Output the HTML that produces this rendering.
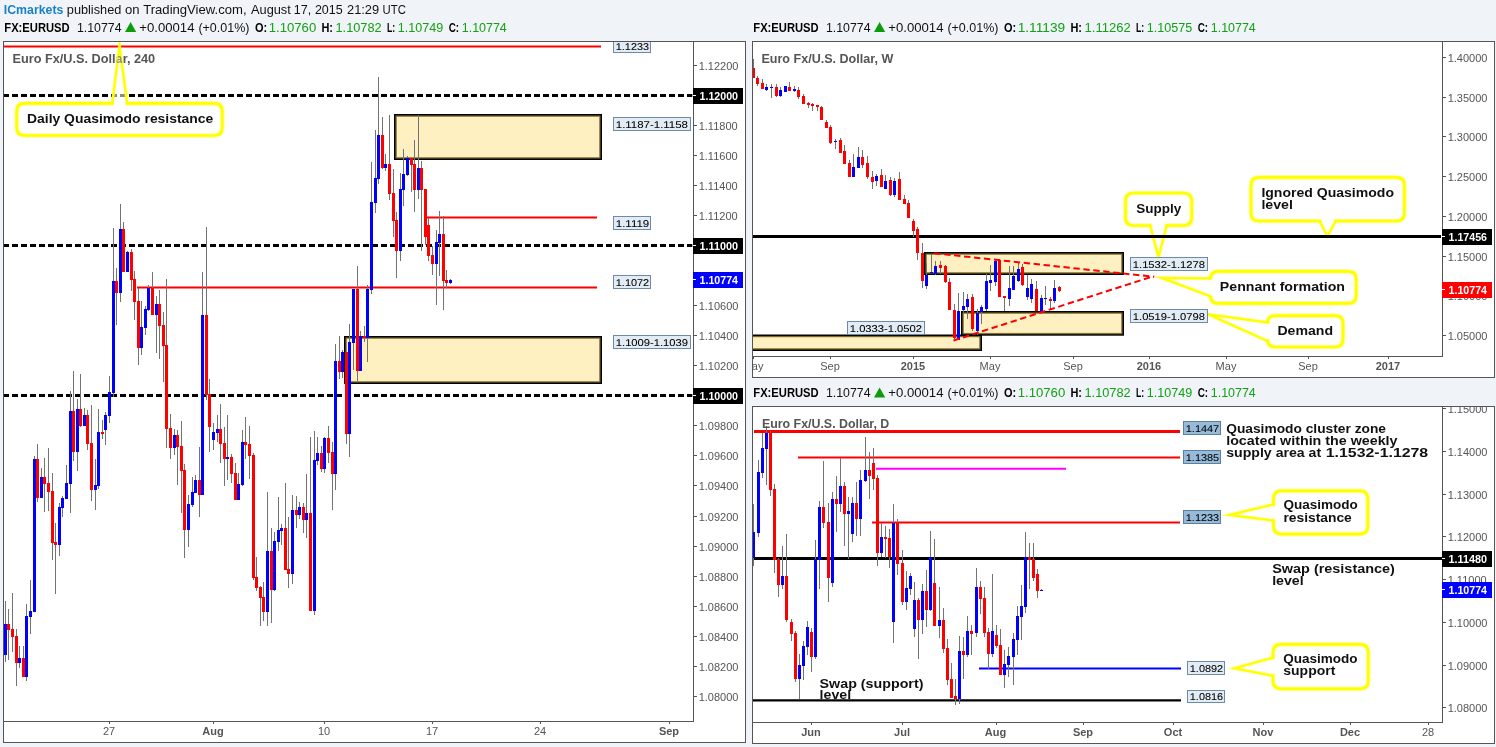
<!DOCTYPE html>
<html><head><meta charset="utf-8"><title>EURUSD</title>
<style>html,body{margin:0;padding:0;background:#f0f4f8;overflow:hidden}svg{display:block}text{font-family:"Liberation Sans",sans-serif}</style>
</head><body>
<svg width="1496" height="747" viewBox="0 0 1496 747" style="will-change:transform">
<text x="3.8" y="13.7" font-size="13.5" fill="#1a82c4" font-weight="bold" textLength="59.6" lengthAdjust="spacingAndGlyphs" >ICmarkets</text>
<text x="66.80000000000001" y="13.7" font-size="13.5" fill="#111" textLength="54.5" lengthAdjust="spacingAndGlyphs" >published</text>
<text x="125.0" y="13.7" font-size="13.5" fill="#111" textLength="14.6" lengthAdjust="spacingAndGlyphs" >on</text>
<text x="143.20000000000002" y="13.7" font-size="13.5" fill="#111" textLength="103.4" lengthAdjust="spacingAndGlyphs" >TradingView.com,</text>
<text x="251.0" y="13.7" font-size="13.5" fill="#111" textLength="39.8" lengthAdjust="spacingAndGlyphs" >August</text>
<text x="293.79999999999995" y="13.7" font-size="13.5" fill="#111" textLength="17.4" lengthAdjust="spacingAndGlyphs" >17,</text>
<text x="314.9" y="13.7" font-size="13.5" fill="#111" textLength="27.8" lengthAdjust="spacingAndGlyphs" >2015</text>
<text x="347.0" y="13.7" font-size="13.5" fill="#111" textLength="32.1" lengthAdjust="spacingAndGlyphs" >21:29</text>
<text x="382.59999999999997" y="13.7" font-size="13.5" fill="#111" textLength="23.3" lengthAdjust="spacingAndGlyphs" >UTC</text>
<text x="4.3" y="31.8" font-size="12.5" fill="#000" font-weight="bold" textLength="65.4" lengthAdjust="spacingAndGlyphs" >FX:EURUSD</text>
<text x="77" y="31.8" font-size="12.5" fill="#111" textLength="44.5" lengthAdjust="spacingAndGlyphs" >1.10774</text>
<path d="M125 32.1L136.2 32.1L130.6 22.0Z" fill="#0a9c0a"/>
<text x="139.3" y="31.8" font-size="12.5" fill="#111" textLength="55.2" lengthAdjust="spacingAndGlyphs" >+0.00014</text>
<text x="198.4" y="31.8" font-size="12.5" fill="#111" textLength="51" lengthAdjust="spacingAndGlyphs" >(+0.01%)</text>
<text x="255" y="31.8" font-size="12.5" fill="#000" font-weight="bold" textLength="12.2" lengthAdjust="spacingAndGlyphs" >O:</text>
<text x="268.7" y="31.8" font-size="12.5" fill="#14a014" textLength="47.5" lengthAdjust="spacingAndGlyphs" >1.10760</text>
<text x="321.4" y="31.8" font-size="12.5" fill="#000" font-weight="bold" textLength="11.6" lengthAdjust="spacingAndGlyphs" >H:</text>
<text x="335.5" y="31.8" font-size="12.5" fill="#14a014" textLength="46.2" lengthAdjust="spacingAndGlyphs" >1.10782</text>
<text x="386.9" y="31.8" font-size="12.5" fill="#000" font-weight="bold" textLength="8.2" lengthAdjust="spacingAndGlyphs" >L:</text>
<text x="397.8" y="31.8" font-size="12.5" fill="#14a014" textLength="45.4" lengthAdjust="spacingAndGlyphs" >1.10749</text>
<text x="448.7" y="31.8" font-size="12.5" fill="#000" font-weight="bold" textLength="10.4" lengthAdjust="spacingAndGlyphs" >C:</text>
<text x="461.8" y="31.8" font-size="12.5" fill="#14a014" textLength="45" lengthAdjust="spacingAndGlyphs" >1.10774</text>
<text x="753.3" y="31.8" font-size="12.5" fill="#000" font-weight="bold" textLength="65.4" lengthAdjust="spacingAndGlyphs" >FX:EURUSD</text>
<text x="826" y="31.8" font-size="12.5" fill="#111" textLength="44.5" lengthAdjust="spacingAndGlyphs" >1.10774</text>
<path d="M874 32.1L885.2 32.1L879.6 22.0Z" fill="#0a9c0a"/>
<text x="888.3" y="31.8" font-size="12.5" fill="#111" textLength="55.2" lengthAdjust="spacingAndGlyphs" >+0.00014</text>
<text x="947.4" y="31.8" font-size="12.5" fill="#111" textLength="51" lengthAdjust="spacingAndGlyphs" >(+0.01%)</text>
<text x="1004" y="31.8" font-size="12.5" fill="#000" font-weight="bold" textLength="12.2" lengthAdjust="spacingAndGlyphs" >O:</text>
<text x="1017.7" y="31.8" font-size="12.5" fill="#14a014" textLength="47.5" lengthAdjust="spacingAndGlyphs" >1.11139</text>
<text x="1070.4" y="31.8" font-size="12.5" fill="#000" font-weight="bold" textLength="11.6" lengthAdjust="spacingAndGlyphs" >H:</text>
<text x="1084.5" y="31.8" font-size="12.5" fill="#14a014" textLength="46.2" lengthAdjust="spacingAndGlyphs" >1.11262</text>
<text x="1135.9" y="31.8" font-size="12.5" fill="#000" font-weight="bold" textLength="8.2" lengthAdjust="spacingAndGlyphs" >L:</text>
<text x="1146.8" y="31.8" font-size="12.5" fill="#14a014" textLength="45.4" lengthAdjust="spacingAndGlyphs" >1.10575</text>
<text x="1197.7" y="31.8" font-size="12.5" fill="#000" font-weight="bold" textLength="10.4" lengthAdjust="spacingAndGlyphs" >C:</text>
<text x="1210.8" y="31.8" font-size="12.5" fill="#14a014" textLength="45" lengthAdjust="spacingAndGlyphs" >1.10774</text>
<text x="753.3" y="397.2" font-size="12.5" fill="#000" font-weight="bold" textLength="65.4" lengthAdjust="spacingAndGlyphs" >FX:EURUSD</text>
<text x="826" y="397.2" font-size="12.5" fill="#111" textLength="44.5" lengthAdjust="spacingAndGlyphs" >1.10774</text>
<path d="M874 397.5L885.2 397.5L879.6 387.4Z" fill="#0a9c0a"/>
<text x="888.3" y="397.2" font-size="12.5" fill="#111" textLength="55.2" lengthAdjust="spacingAndGlyphs" >+0.00014</text>
<text x="947.4" y="397.2" font-size="12.5" fill="#111" textLength="51" lengthAdjust="spacingAndGlyphs" >(+0.01%)</text>
<text x="1004" y="397.2" font-size="12.5" fill="#000" font-weight="bold" textLength="12.2" lengthAdjust="spacingAndGlyphs" >O:</text>
<text x="1017.7" y="397.2" font-size="12.5" fill="#14a014" textLength="47.5" lengthAdjust="spacingAndGlyphs" >1.10760</text>
<text x="1070.4" y="397.2" font-size="12.5" fill="#000" font-weight="bold" textLength="11.6" lengthAdjust="spacingAndGlyphs" >H:</text>
<text x="1084.5" y="397.2" font-size="12.5" fill="#14a014" textLength="46.2" lengthAdjust="spacingAndGlyphs" >1.10782</text>
<text x="1135.9" y="397.2" font-size="12.5" fill="#000" font-weight="bold" textLength="8.2" lengthAdjust="spacingAndGlyphs" >L:</text>
<text x="1146.8" y="397.2" font-size="12.5" fill="#14a014" textLength="45.4" lengthAdjust="spacingAndGlyphs" >1.10749</text>
<text x="1197.7" y="397.2" font-size="12.5" fill="#000" font-weight="bold" textLength="10.4" lengthAdjust="spacingAndGlyphs" >C:</text>
<text x="1210.8" y="397.2" font-size="12.5" fill="#14a014" textLength="45" lengthAdjust="spacingAndGlyphs" >1.10774</text>
<rect x="3.5" y="41.5" width="742" height="701" fill="#fff" stroke="#555555" stroke-width="1" />
<svg x="4" y="42" width="741" height="700" viewBox="4 42 741 700">
<text x="12.5" y="62.6" font-size="13" fill="#555555" font-weight="bold" textLength="142.7" lengthAdjust="spacingAndGlyphs" >Euro Fx/U.S. Dollar, 240</text>
<line x1="4" y1="46.5" x2="601" y2="46.5" stroke="#ff0000" stroke-width="2" />
<rect x="394" y="114" width="208" height="46" fill="#000" />
<rect x="395.45" y="115.45" width="205.1" height="43.1" fill="#7a6832" />
<rect x="396.6" y="116.6" width="202.8" height="40.8" fill="#d6c285" />
<rect x="397.0" y="117.0" width="202.0" height="40.0" fill="#fff0c2" />
<rect x="344" y="336" width="258" height="48" fill="#000" />
<rect x="345.45" y="337.45" width="255.1" height="45.1" fill="#7a6832" />
<rect x="346.6" y="338.6" width="252.8" height="42.8" fill="#d6c285" />
<rect x="347.0" y="339.0" width="252.0" height="42.0" fill="#fff0c2" />
<line x1="4" y1="95.5" x2="692.3" y2="95.5" stroke="#000" stroke-width="3" stroke-dasharray="6 3" stroke-dashoffset="1"/>
<line x1="4" y1="245.5" x2="692.3" y2="245.5" stroke="#000" stroke-width="3" stroke-dasharray="6 3" stroke-dashoffset="1"/>
<line x1="4" y1="395.5" x2="692.3" y2="395.5" stroke="#000" stroke-width="3" stroke-dasharray="6 3" stroke-dashoffset="1"/>
<line x1="427" y1="217.5" x2="597" y2="217.5" stroke="#ff0000" stroke-width="2" />
<line x1="137" y1="287.5" x2="597" y2="287.5" stroke="#ff0000" stroke-width="2" />
<g shape-rendering="crispEdges">
<path d="M5.5 601V662M8.5 609V660M12.5 593V652M16.5 629V686M19.5 646V668M23.5 646V677M26.5 604V681M30.5 580V634M34.5 456V612M37.5 444V502M41.5 468V498M44.5 458V512M48.5 448V511M52.5 473V560M55.5 523V594M59.5 503V556M62.5 496V517M66.5 465V499M70.5 391V513M73.5 371V461M77.5 399V471M80.5 374V427M84.5 408V426M87.5 410V450M91.5 405V501M95.5 459V510M98.5 409V489M102.5 420V439M105.5 412V445M109.5 376V423M113.5 228V397M116.5 268V325M120.5 204V302M123.5 222V272M127.5 251V272M131.5 249V291M134.5 271V320M138.5 288V365M141.5 301V355M145.5 306V335M148.5 285V311M152.5 272V315M156.5 296V353M159.5 290V359M163.5 312V382M166.5 279V448M170.5 414V459M174.5 429V455M177.5 430V485M181.5 421V513M184.5 464V558M188.5 495V547M192.5 477V507M195.5 475V493M199.5 447V517M202.5 272V495M206.5 227V400M209.5 379V452M213.5 423V450M217.5 415V442M220.5 404V463M224.5 427V486M227.5 415V480M231.5 454V483M235.5 463V500M238.5 473V500M242.5 430V486M245.5 417V459M249.5 426V479M253.5 453V580M256.5 557V591M260.5 586V626M263.5 582V621M267.5 492V626M271.5 528V623M274.5 532V591M278.5 497V551M281.5 524V545M285.5 483V570M288.5 517V588M292.5 495V584M296.5 496V528M299.5 502V519M303.5 503V533M306.5 474V538M310.5 437V611M314.5 431V615M317.5 437V465M321.5 446V472M324.5 437V473M328.5 426V463M332.5 442V510M335.5 344V490M339.5 336V379M342.5 350V378M346.5 352V444M349.5 324V457M353.5 289V370M357.5 266V381M360.5 331V371M364.5 326V342M367.5 285V362M371.5 162V294M375.5 130V213M378.5 77V184M382.5 117V169M385.5 154V171M389.5 115V200M393.5 169V237M396.5 212V278M400.5 173V261M403.5 149V206M407.5 156V176M411.5 158V192M414.5 140V212M418.5 115V199M421.5 161V251M425.5 189V245M428.5 218V261M432.5 246V275M436.5 230V305M439.5 211V276M443.5 216V310M446.5 270V288M450.5 279V284" stroke="#737375" stroke-width="1" fill="none"/>
<path d="M7 624h3v6h-3zM11 629h3v8h-3zM15 636h3v27h-3zM22 658h3v19h-3zM36 459h3v39h-3zM43 477h3v7h-3zM47 483h3v9h-3zM51 491h3v52h-3zM54 542h3v3h-3zM72 411h3v41h-3zM79 409h3v17h-3zM86 415h3v29h-3zM90 443h3v47h-3zM101 432h3v2h-3zM115 281h3v12h-3zM122 229h3v43h-3zM130 252h3v28h-3zM133 279h3v23h-3zM137 301h3v47h-3zM151 288h3v27h-3zM158 304h3v22h-3zM162 325h3v21h-3zM165 345h3v84h-3zM169 428h3v20h-3zM176 435h3v12h-3zM180 446h3v25h-3zM183 470h3v60h-3zM198 480h3v15h-3zM205 315h3v80h-3zM208 394h3v33h-3zM219 429h3v15h-3zM223 443h3v16h-3zM230 457h3v17h-3zM234 473h3v27h-3zM244 442h3v3h-3zM248 444h3v12h-3zM252 455h3v123h-3zM255 577h3v11h-3zM259 587h3v11h-3zM262 597h3v15h-3zM270 551h3v39h-3zM284 528h3v42h-3zM287 569h3v5h-3zM295 510h3v5h-3zM302 507h3v13h-3zM309 513h3v98h-3zM320 453h3v16h-3zM327 438h3v15h-3zM331 452h3v22h-3zM338 361h3v11h-3zM345 352h3v82h-3zM356 289h3v82h-3zM363 336h3v2h-3zM381 135h3v33h-3zM388 164h3v30h-3zM392 193h3v28h-3zM395 220h3v31h-3zM410 158h3v7h-3zM413 164h3v26h-3zM420 168h3v22h-3zM424 189h3v48h-3zM427 225h3v31h-3zM431 255h3v9h-3zM442 234h3v47h-3zM445 280h3v3h-3z" fill="#ff0000"/>
<path d="M4 624h3v31h-3zM18 658h3v5h-3zM25 616h3v61h-3zM29 611h3v6h-3zM33 459h3v153h-3zM40 477h3v21h-3zM58 507h3v38h-3zM61 498h3v10h-3zM65 483h3v16h-3zM69 411h3v73h-3zM76 409h3v43h-3zM83 415h3v11h-3zM94 485h3v5h-3zM97 432h3v54h-3zM104 415h3v15h-3zM108 392h3v24h-3zM112 281h3v112h-3zM119 229h3v64h-3zM126 252h3v20h-3zM140 327h3v21h-3zM144 309h3v19h-3zM147 288h3v22h-3zM155 304h3v11h-3zM173 435h3v13h-3zM187 504h3v26h-3zM191 492h3v13h-3zM194 480h3v13h-3zM201 315h3v180h-3zM212 432h3v8h-3zM216 429h3v4h-3zM226 457h3v2h-3zM237 484h3v16h-3zM241 442h3v43h-3zM266 551h3v61h-3zM273 541h3v49h-3zM277 530h3v12h-3zM280 528h3v3h-3zM291 510h3v64h-3zM298 507h3v8h-3zM305 513h3v7h-3zM313 460h3v151h-3zM316 453h3v8h-3zM323 438h3v31h-3zM334 361h3v113h-3zM341 352h3v20h-3zM348 342h3v92h-3zM352 289h3v54h-3zM359 336h3v35h-3zM366 289h3v49h-3zM370 202h3v88h-3zM374 178h3v25h-3zM377 135h3v44h-3zM384 164h3v4h-3zM399 189h3v62h-3zM402 174h3v16h-3zM406 158h3v17h-3zM417 168h3v22h-3zM435 242h3v22h-3zM438 234h3v9h-3zM449 280h3v3h-3z" fill="#0000ff"/>
</g>
<path d="M24.7 103.4L112.2 103.4L119.5 46L127.2 103.4L214.3 103.4Q222.3 103.4 222.3 111.4L222.3 127.5Q222.3 135.5 214.3 135.5L24.7 135.5Q16.7 135.5 16.7 127.5L16.7 111.4Q16.7 103.4 24.7 103.4Z" fill="#fff" fill-opacity="0.55" stroke="none"/>
<path d="M127.2 103.4L214.3 103.4Q222.3 103.4 222.3 111.4L222.3 127.5Q222.3 135.5 214.3 135.5L24.7 135.5Q16.7 135.5 16.7 127.5L16.7 111.4Q16.7 103.4 24.7 103.4L112.2 103.4" fill="none" stroke="#ffff44" stroke-opacity="0.55" stroke-width="4.6" stroke-linecap="round"/>
<path d="M112.2 103.4L119.5 46L127.2 103.4" fill="none" stroke="#ffff44" stroke-opacity="0.55" stroke-width="3.3" stroke-linejoin="miter" stroke-miterlimit="20" stroke-linecap="round"/>
<path d="M127.2 103.4L214.3 103.4Q222.3 103.4 222.3 111.4L222.3 127.5Q222.3 135.5 214.3 135.5L24.7 135.5Q16.7 135.5 16.7 127.5L16.7 111.4Q16.7 103.4 24.7 103.4L112.2 103.4" fill="none" stroke="#ffff00" stroke-width="2.7" stroke-linecap="round"/>
<path d="M112.2 103.4L119.5 46L127.2 103.4" fill="none" stroke="#ffff00" stroke-width="2.2" stroke-linejoin="miter" stroke-miterlimit="20" stroke-linecap="round"/>
<text x="27" y="122.6" font-size="12" fill="#111" font-weight="bold" textLength="186.3" lengthAdjust="spacingAndGlyphs" >Daily Quasimodo resistance</text>
<clipPath id="cp1"><path d="M112 101L119.5 44L127.5 101Z"/></clipPath>
<text x="12.5" y="62.6" font-size="13" fill="#8f8f8f" font-weight="bold" textLength="142.7" lengthAdjust="spacingAndGlyphs" clip-path="url(#cp1)">Euro Fx/U.S. Dollar, 240</text>
<rect x="613.5" y="38.5" width="37" height="13.5" fill="#e2ecf4" stroke="#6f8aa6" stroke-width="1" shape-rendering="crispEdges"/>
<text x="615.8" y="50.199999999999996" font-size="9.9" fill="#000" textLength="33.2" lengthAdjust="spacingAndGlyphs" text-rendering="geometricPrecision" stroke="#000" stroke-width="0.06">1.1233</text>
<rect x="613.5" y="117.5" width="77" height="13" fill="#e2ecf4" stroke="#6f8aa6" stroke-width="1" shape-rendering="crispEdges"/>
<text x="615.8" y="127.9" font-size="9.9" fill="#000" textLength="72.2" lengthAdjust="spacingAndGlyphs" text-rendering="geometricPrecision" stroke="#000" stroke-width="0.06">1.1187-1.1158</text>
<rect x="613.5" y="216.5" width="37" height="13" fill="#e2ecf4" stroke="#6f8aa6" stroke-width="1" shape-rendering="crispEdges"/>
<text x="615.8" y="226.9" font-size="9.9" fill="#000" textLength="33.4" lengthAdjust="spacingAndGlyphs" text-rendering="geometricPrecision" stroke="#000" stroke-width="0.06">1.1119</text>
<rect x="613.5" y="275.5" width="37" height="13" fill="#e2ecf4" stroke="#6f8aa6" stroke-width="1" shape-rendering="crispEdges"/>
<text x="615.8" y="285.9" font-size="9.9" fill="#000" textLength="33.4" lengthAdjust="spacingAndGlyphs" text-rendering="geometricPrecision" stroke="#000" stroke-width="0.06">1.1072</text>
<rect x="613.5" y="335.5" width="77" height="13" fill="#e2ecf4" stroke="#6f8aa6" stroke-width="1" shape-rendering="crispEdges"/>
<text x="615.8" y="345.9" font-size="9.9" fill="#000" textLength="72.2" lengthAdjust="spacingAndGlyphs" text-rendering="geometricPrecision" stroke="#000" stroke-width="0.06">1.1009-1.1039</text>
</svg>
<rect x="693" y="42" width="1" height="680" fill="#555555" shape-rendering="crispEdges"/>
<rect x="4" y="721" width="690" height="1" fill="#555555" shape-rendering="crispEdges"/>
<rect x="694" y="65" width="3" height="1" fill="#555555" shape-rendering="crispEdges"/>
<text x="698.7" y="70" font-size="11" fill="#555555" >1.12200</text>
<rect x="694" y="95" width="3" height="1" fill="#555555" shape-rendering="crispEdges"/>
<text x="698.7" y="100" font-size="11" fill="#555555" >1.12000</text>
<rect x="694" y="125" width="3" height="1" fill="#555555" shape-rendering="crispEdges"/>
<text x="698.7" y="130" font-size="11" fill="#555555" >1.11800</text>
<rect x="694" y="155" width="3" height="1" fill="#555555" shape-rendering="crispEdges"/>
<text x="698.7" y="160" font-size="11" fill="#555555" >1.11600</text>
<rect x="694" y="185" width="3" height="1" fill="#555555" shape-rendering="crispEdges"/>
<text x="698.7" y="190" font-size="11" fill="#555555" >1.11400</text>
<rect x="694" y="215" width="3" height="1" fill="#555555" shape-rendering="crispEdges"/>
<text x="698.7" y="220" font-size="11" fill="#555555" >1.11200</text>
<rect x="694" y="245" width="3" height="1" fill="#555555" shape-rendering="crispEdges"/>
<text x="698.7" y="250" font-size="11" fill="#555555" >1.11000</text>
<rect x="694" y="275" width="3" height="1" fill="#555555" shape-rendering="crispEdges"/>
<text x="698.7" y="280" font-size="11" fill="#555555" >1.10800</text>
<rect x="694" y="305" width="3" height="1" fill="#555555" shape-rendering="crispEdges"/>
<text x="698.7" y="310" font-size="11" fill="#555555" >1.10600</text>
<rect x="694" y="335" width="3" height="1" fill="#555555" shape-rendering="crispEdges"/>
<text x="698.7" y="340" font-size="11" fill="#555555" >1.10400</text>
<rect x="694" y="365" width="3" height="1" fill="#555555" shape-rendering="crispEdges"/>
<text x="698.7" y="370" font-size="11" fill="#555555" >1.10200</text>
<rect x="694" y="395" width="3" height="1" fill="#555555" shape-rendering="crispEdges"/>
<text x="698.7" y="400" font-size="11" fill="#555555" >1.10000</text>
<rect x="694" y="425" width="3" height="1" fill="#555555" shape-rendering="crispEdges"/>
<text x="698.7" y="430" font-size="11" fill="#555555" >1.09800</text>
<rect x="694" y="455" width="3" height="1" fill="#555555" shape-rendering="crispEdges"/>
<text x="698.7" y="460" font-size="11" fill="#555555" >1.09600</text>
<rect x="694" y="485" width="3" height="1" fill="#555555" shape-rendering="crispEdges"/>
<text x="698.7" y="490" font-size="11" fill="#555555" >1.09400</text>
<rect x="694" y="516" width="3" height="1" fill="#555555" shape-rendering="crispEdges"/>
<text x="698.7" y="521" font-size="11" fill="#555555" >1.09200</text>
<rect x="694" y="546" width="3" height="1" fill="#555555" shape-rendering="crispEdges"/>
<text x="698.7" y="551" font-size="11" fill="#555555" >1.09000</text>
<rect x="694" y="576" width="3" height="1" fill="#555555" shape-rendering="crispEdges"/>
<text x="698.7" y="581" font-size="11" fill="#555555" >1.08800</text>
<rect x="694" y="606" width="3" height="1" fill="#555555" shape-rendering="crispEdges"/>
<text x="698.7" y="611" font-size="11" fill="#555555" >1.08600</text>
<rect x="694" y="636" width="3" height="1" fill="#555555" shape-rendering="crispEdges"/>
<text x="698.7" y="641" font-size="11" fill="#555555" >1.08400</text>
<rect x="694" y="666" width="3" height="1" fill="#555555" shape-rendering="crispEdges"/>
<text x="698.7" y="671" font-size="11" fill="#555555" >1.08200</text>
<rect x="694" y="696" width="3" height="1" fill="#555555" shape-rendering="crispEdges"/>
<text x="698.7" y="701" font-size="11" fill="#555555" >1.08000</text>
<rect x="693" y="88" width="50" height="16" fill="#000" shape-rendering="crispEdges"/>
<rect x="693" y="95" width="3" height="1" fill="#fff" shape-rendering="crispEdges"/>
<text x="699.5" y="100" font-size="11" fill="#fff" font-weight="bold" textLength="38.5" lengthAdjust="spacingAndGlyphs" >1.12000</text>
<rect x="693" y="238" width="50" height="16" fill="#000" shape-rendering="crispEdges"/>
<rect x="693" y="245" width="3" height="1" fill="#fff" shape-rendering="crispEdges"/>
<text x="699.5" y="250" font-size="11" fill="#fff" font-weight="bold" textLength="38.5" lengthAdjust="spacingAndGlyphs" >1.11000</text>
<rect x="693" y="388" width="50" height="16" fill="#000" shape-rendering="crispEdges"/>
<rect x="693" y="395" width="3" height="1" fill="#fff" shape-rendering="crispEdges"/>
<text x="699.5" y="400" font-size="11" fill="#fff" font-weight="bold" textLength="38.5" lengthAdjust="spacingAndGlyphs" >1.10000</text>
<rect x="693" y="272" width="50" height="16" fill="#0000ff" shape-rendering="crispEdges"/>
<rect x="693" y="279" width="3" height="1" fill="#fff" shape-rendering="crispEdges"/>
<text x="699.5" y="284" font-size="11" fill="#fff" font-weight="bold" textLength="38.5" lengthAdjust="spacingAndGlyphs" >1.10774</text>
<rect x="109" y="722" width="1" height="2" fill="#555555" shape-rendering="crispEdges"/>
<text x="109.0" y="735" font-size="11" fill="#555555" text-anchor="middle" >27</text>
<rect x="213" y="722" width="1" height="2" fill="#555555" shape-rendering="crispEdges"/>
<text x="213.0" y="735" font-size="11" fill="#555555" font-weight="bold" text-anchor="middle" >Aug</text>
<rect x="324" y="722" width="1" height="2" fill="#555555" shape-rendering="crispEdges"/>
<text x="324.0" y="735" font-size="11" fill="#555555" text-anchor="middle" >10</text>
<rect x="432" y="722" width="1" height="2" fill="#555555" shape-rendering="crispEdges"/>
<text x="432.0" y="735" font-size="11" fill="#555555" text-anchor="middle" >17</text>
<rect x="540" y="722" width="1" height="2" fill="#555555" shape-rendering="crispEdges"/>
<text x="540.0" y="735" font-size="11" fill="#555555" text-anchor="middle" >24</text>
<rect x="669" y="722" width="1" height="2" fill="#555555" shape-rendering="crispEdges"/>
<text x="669.0" y="735" font-size="11" fill="#555555" font-weight="bold" text-anchor="middle" >Sep</text>
<rect x="752.5" y="41.5" width="742" height="336" fill="#fff" stroke="#555555" stroke-width="1" />
<svg x="753" y="42" width="741" height="335" viewBox="753 42 741 335">
<text x="761.4" y="62.6" font-size="13" fill="#555555" font-weight="bold" textLength="131.9" lengthAdjust="spacingAndGlyphs" >Euro Fx/U.S. Dollar, W</text>
<rect x="750" y="334.5" width="232" height="16.5" fill="#000" />
<rect x="751.45" y="335.95" width="229.1" height="13.6" fill="#7a6832" />
<rect x="752.6" y="337.1" width="226.8" height="11.3" fill="#d6c285" />
<rect x="753.0" y="337.5" width="226.0" height="10.5" fill="#fff0c2" />
<rect x="961" y="311" width="163" height="24.69999999999999" fill="#000" />
<rect x="962.45" y="312.45" width="160.1" height="21.79999999999999" fill="#7a6832" />
<rect x="963.6" y="313.6" width="157.8" height="19.49999999999999" fill="#d6c285" />
<rect x="964.0" y="314.0" width="157.0" height="18.69999999999999" fill="#fff0c2" />
<rect x="924" y="252" width="200" height="23" fill="#000" />
<rect x="925.45" y="253.45" width="197.1" height="20.1" fill="#7a6832" />
<rect x="926.6" y="254.6" width="194.8" height="17.8" fill="#d6c285" />
<rect x="927.0" y="255.0" width="194.0" height="17.0" fill="#fff0c2" />
<path d="M1133.5 193L1183.7 193Q1191.7 193 1191.7 201L1191.7 217.5Q1191.7 225.5 1183.7 225.5L1166.6 225.5L1158.5 257.5L1150.2 225.5L1133.5 225.5Q1125.5 225.5 1125.5 217.5L1125.5 201Q1125.5 193 1133.5 193Z" fill="#fff" fill-opacity="0.8" stroke="none"/>
<path d="M1150.2 225.5L1133.5 225.5Q1125.5 225.5 1125.5 217.5L1125.5 201Q1125.5 193 1133.5 193L1183.7 193Q1191.7 193 1191.7 201L1191.7 217.5Q1191.7 225.5 1183.7 225.5L1166.6 225.5" fill="none" stroke="#ffff44" stroke-opacity="0.55" stroke-width="4.6" stroke-linecap="round"/>
<path d="M1166.6 225.5L1158.5 257.5L1150.2 225.5" fill="none" stroke="#ffff44" stroke-opacity="0.55" stroke-width="3.3" stroke-linejoin="miter" stroke-miterlimit="20" stroke-linecap="round"/>
<path d="M1150.2 225.5L1133.5 225.5Q1125.5 225.5 1125.5 217.5L1125.5 201Q1125.5 193 1133.5 193L1183.7 193Q1191.7 193 1191.7 201L1191.7 217.5Q1191.7 225.5 1183.7 225.5L1166.6 225.5" fill="none" stroke="#ffff00" stroke-width="2.7" stroke-linecap="round"/>
<path d="M1166.6 225.5L1158.5 257.5L1150.2 225.5" fill="none" stroke="#ffff00" stroke-width="2.2" stroke-linejoin="miter" stroke-miterlimit="20" stroke-linecap="round"/>
<text x="1136.2" y="212.8" font-size="12" fill="#111" font-weight="bold" textLength="45" lengthAdjust="spacingAndGlyphs" >Supply</text>
<path d="M1259 177.4L1396.4 177.4Q1404.4 177.4 1404.4 185.4L1404.4 213Q1404.4 221 1396.4 221L1335.7 221L1327.4 236.3L1319.7 221L1259 221Q1251 221 1251 213L1251 185.4Q1251 177.4 1259 177.4Z" fill="#fff" fill-opacity="0.8" stroke="none"/>
<path d="M1319.7 221L1259 221Q1251 221 1251 213L1251 185.4Q1251 177.4 1259 177.4L1396.4 177.4Q1404.4 177.4 1404.4 185.4L1404.4 213Q1404.4 221 1396.4 221L1335.7 221" fill="none" stroke="#ffff44" stroke-opacity="0.55" stroke-width="4.6" stroke-linecap="round"/>
<path d="M1335.7 221L1327.4 236.3L1319.7 221" fill="none" stroke="#ffff44" stroke-opacity="0.55" stroke-width="3.3" stroke-linejoin="miter" stroke-miterlimit="20" stroke-linecap="round"/>
<path d="M1319.7 221L1259 221Q1251 221 1251 213L1251 185.4Q1251 177.4 1259 177.4L1396.4 177.4Q1404.4 177.4 1404.4 185.4L1404.4 213Q1404.4 221 1396.4 221L1335.7 221" fill="none" stroke="#ffff00" stroke-width="2.7" stroke-linecap="round"/>
<path d="M1335.7 221L1327.4 236.3L1319.7 221" fill="none" stroke="#ffff00" stroke-width="2.2" stroke-linejoin="miter" stroke-miterlimit="20" stroke-linecap="round"/>
<text x="1261.4" y="196.8" font-size="12" fill="#111" font-weight="bold" textLength="132.6" lengthAdjust="spacingAndGlyphs" >Ignored Quasimodo</text>
<text x="1261.4" y="208.9" font-size="12" fill="#111" font-weight="bold" textLength="31.5" lengthAdjust="spacingAndGlyphs" >level</text>
<path d="M1218.4 271.4L1348.2 271.4Q1356.2 271.4 1356.2 279.4L1356.2 295.4Q1356.2 303.4 1348.2 303.4L1218.4 303.4Q1210.4 303.4 1210.4 295.4L1210.4 296.2L1161.5 277.9L1210.4 278.3L1210.4 279.4Q1210.4 271.4 1218.4 271.4Z" fill="#fff" fill-opacity="0.8" stroke="none"/>
<path d="M1210.4 278.3L1210.4 279.4Q1210.4 271.4 1218.4 271.4L1348.2 271.4Q1356.2 271.4 1356.2 279.4L1356.2 295.4Q1356.2 303.4 1348.2 303.4L1218.4 303.4Q1210.4 303.4 1210.4 295.4L1210.4 296.2" fill="none" stroke="#ffff44" stroke-opacity="0.55" stroke-width="4.6" stroke-linecap="round"/>
<path d="M1210.4 296.2L1161.5 277.9L1210.4 278.3" fill="none" stroke="#ffff44" stroke-opacity="0.55" stroke-width="3.3" stroke-linejoin="miter" stroke-miterlimit="20" stroke-linecap="round"/>
<path d="M1210.4 278.3L1210.4 279.4Q1210.4 271.4 1218.4 271.4L1348.2 271.4Q1356.2 271.4 1356.2 279.4L1356.2 295.4Q1356.2 303.4 1348.2 303.4L1218.4 303.4Q1210.4 303.4 1210.4 295.4L1210.4 296.2" fill="none" stroke="#ffff00" stroke-width="2.7" stroke-linecap="round"/>
<path d="M1210.4 296.2L1161.5 277.9L1210.4 278.3" fill="none" stroke="#ffff00" stroke-width="2.2" stroke-linejoin="miter" stroke-miterlimit="20" stroke-linecap="round"/>
<text x="1219.8" y="291.2" font-size="12" fill="#111" font-weight="bold" textLength="125.2" lengthAdjust="spacingAndGlyphs" >Pennant formation</text>
<path d="M1275.4 315.6L1335 315.6Q1343 315.6 1343 323.6L1343 339Q1343 347 1335 347L1275.4 347Q1267.4 347 1267.4 339L1267.4 341L1208.3 314.3L1267.4 322.3L1267.4 323.6Q1267.4 315.6 1275.4 315.6Z" fill="#fff" fill-opacity="0.8" stroke="none"/>
<path d="M1267.4 322.3L1267.4 323.6Q1267.4 315.6 1275.4 315.6L1335 315.6Q1343 315.6 1343 323.6L1343 339Q1343 347 1335 347L1275.4 347Q1267.4 347 1267.4 339L1267.4 341" fill="none" stroke="#ffff44" stroke-opacity="0.55" stroke-width="4.6" stroke-linecap="round"/>
<path d="M1267.4 341L1208.3 314.3L1267.4 322.3" fill="none" stroke="#ffff44" stroke-opacity="0.55" stroke-width="3.3" stroke-linejoin="miter" stroke-miterlimit="20" stroke-linecap="round"/>
<path d="M1267.4 322.3L1267.4 323.6Q1267.4 315.6 1275.4 315.6L1335 315.6Q1343 315.6 1343 323.6L1343 339Q1343 347 1335 347L1275.4 347Q1267.4 347 1267.4 339L1267.4 341" fill="none" stroke="#ffff00" stroke-width="2.7" stroke-linecap="round"/>
<path d="M1267.4 341L1208.3 314.3L1267.4 322.3" fill="none" stroke="#ffff00" stroke-width="2.2" stroke-linejoin="miter" stroke-miterlimit="20" stroke-linecap="round"/>
<text x="1277.4" y="334.6" font-size="12" fill="#111" font-weight="bold" textLength="55.6" lengthAdjust="spacingAndGlyphs" >Demand</text>
<rect x="753" y="235" width="688" height="3" fill="#000" shape-rendering="crispEdges"/>
<g shape-rendering="crispEdges">
<path d="M753.5 59V78M757.5 76V86M762.5 79V89M766.5 84V91M771.5 84V98M776.5 84V97M780.5 87V97M785.5 86V92M789.5 82V91M794.5 86V92M798.5 87V99M803.5 94V104M808.5 102V108M812.5 103V111M817.5 105V111M821.5 106V120M826.5 120V128M830.5 125V144M835.5 139V149M840.5 138V153M844.5 145V164M849.5 160V177M853.5 154V177M858.5 147V168M862.5 150V168M867.5 156V179M872.5 171V189M876.5 174V186M881.5 169V187M885.5 175V189M890.5 177V196M894.5 178V197M899.5 172V200M904.5 195V204M908.5 200V218M913.5 219V237M917.5 227V260M922.5 243V288M926.5 263V289M931.5 254V273M935.5 261V275M940.5 261V274M945.5 265V283M949.5 278V310M954.5 304V339M958.5 293V340M963.5 292V314M967.5 294V319M972.5 294V331M977.5 309V335M981.5 305V324M986.5 274V311M990.5 265V291M995.5 259V286M999.5 259V297M1004.5 296V311M1009.5 266V306M1013.5 266V290M1018.5 262V282M1022.5 264V286M1027.5 275V300M1031.5 279V303M1036.5 281V311M1041.5 295V311M1045.5 286V305M1050.5 297V309M1054.5 280V303M1059.5 286V292" stroke="#737375" stroke-width="1" fill="none"/>
<path d="M752 68h3v10h-3zM756 78h3v6h-3zM761 83h3v6h-3zM775 87h3v9h-3zM788 87h3v4h-3zM797 90h3v7h-3zM802 96h3v8h-3zM807 103h3v2h-3zM811 104h3v2h-3zM816 105h3v2h-3zM820 107h3v13h-3zM825 122h3v6h-3zM829 127h3v16h-3zM839 140h3v13h-3zM843 151h3v13h-3zM848 163h3v14h-3zM861 157h3v8h-3zM866 163h3v14h-3zM871 177h3v5h-3zM880 175h3v12h-3zM889 180h3v15h-3zM898 179h3v21h-3zM903 199h3v5h-3zM907 203h3v15h-3zM912 221h3v10h-3zM916 229h3v24h-3zM921 253h3v28h-3zM939 265h3v3h-3zM944 266h3v16h-3zM948 282h3v28h-3zM953 310h3v28h-3zM971 297h3v32h-3zM998 260h3v37h-3zM1003 296h3v2h-3zM1021 267h3v18h-3zM1035 289h3v22h-3zM1049 299h3v2h-3zM1058 287h3v4h-3z" fill="#ff0000"/>
<path d="M765 87h3v3h-3zM770 87h3v1h-3zM779 90h3v6h-3zM784 86h3v6h-3zM793 89h3v2h-3zM834 141h3v1h-3zM852 167h3v10h-3zM857 157h3v11h-3zM875 176h3v5h-3zM884 181h3v8h-3zM893 181h3v14h-3zM925 275h3v11h-3zM930 272h3v1h-3zM934 266h3v8h-3zM957 311h3v29h-3zM962 306h3v4h-3zM966 299h3v8h-3zM976 313h3v18h-3zM980 307h3v5h-3zM985 281h3v28h-3zM989 280h3v3h-3zM994 261h3v21h-3zM1008 288h3v11h-3zM1012 276h3v14h-3zM1017 269h3v12h-3zM1026 288h3v9h-3zM1030 284h3v15h-3zM1040 298h3v13h-3zM1044 298h3v1h-3zM1053 288h3v13h-3z" fill="#0000ff"/>
</g>
<line x1="934.2" y1="253.2" x2="1154.2" y2="276.8" stroke="#ff0000" stroke-width="2" stroke-dasharray="6.4 3.6"/>
<line x1="953.5" y1="340.5" x2="1153.5" y2="276.2" stroke="#ff0000" stroke-width="2" stroke-dasharray="6.4 3.6"/>
<rect x="1130.5" y="257.5" width="77" height="12.600000000000023" fill="#e2ecf4" stroke="#6f8aa6" stroke-width="1" shape-rendering="crispEdges"/>
<text x="1132.8" y="267.5" font-size="9.9" fill="#000" textLength="72.2" lengthAdjust="spacingAndGlyphs" text-rendering="geometricPrecision" stroke="#000" stroke-width="0.06">1.1532-1.1278</text>
<rect x="1130.5" y="309.7" width="77" height="12.600000000000023" fill="#e2ecf4" stroke="#6f8aa6" stroke-width="1" shape-rendering="crispEdges"/>
<text x="1132.8" y="319.7" font-size="9.9" fill="#000" textLength="72.2" lengthAdjust="spacingAndGlyphs" text-rendering="geometricPrecision" stroke="#000" stroke-width="0.06">1.0519-1.0798</text>
<rect x="847.5" y="321.7" width="77" height="12.800000000000011" fill="#e2ecf4" stroke="#6f8aa6" stroke-width="1" shape-rendering="crispEdges"/>
<text x="849.8" y="331.9" font-size="9.9" fill="#000" textLength="72.2" lengthAdjust="spacingAndGlyphs" text-rendering="geometricPrecision" stroke="#000" stroke-width="0.06">1.0333-1.0502</text>
</svg>
<rect x="1442" y="42" width="1" height="315" fill="#555555" shape-rendering="crispEdges"/>
<rect x="753" y="356" width="690" height="1" fill="#555555" shape-rendering="crispEdges"/>
<rect x="1443" y="57" width="3" height="1" fill="#555555" shape-rendering="crispEdges"/>
<text x="1447.7" y="62" font-size="11" fill="#555555" >1.40000</text>
<rect x="1443" y="97" width="3" height="1" fill="#555555" shape-rendering="crispEdges"/>
<text x="1447.7" y="102" font-size="11" fill="#555555" >1.35000</text>
<rect x="1443" y="136" width="3" height="1" fill="#555555" shape-rendering="crispEdges"/>
<text x="1447.7" y="141" font-size="11" fill="#555555" >1.30000</text>
<rect x="1443" y="176" width="3" height="1" fill="#555555" shape-rendering="crispEdges"/>
<text x="1447.7" y="181" font-size="11" fill="#555555" >1.25000</text>
<rect x="1443" y="216" width="3" height="1" fill="#555555" shape-rendering="crispEdges"/>
<text x="1447.7" y="221" font-size="11" fill="#555555" >1.20000</text>
<rect x="1443" y="256" width="3" height="1" fill="#555555" shape-rendering="crispEdges"/>
<text x="1447.7" y="261" font-size="11" fill="#555555" >1.15000</text>
<rect x="1443" y="295" width="3" height="1" fill="#555555" shape-rendering="crispEdges"/>
<text x="1447.7" y="300" font-size="11" fill="#555555" >1.10000</text>
<rect x="1443" y="335" width="3" height="1" fill="#555555" shape-rendering="crispEdges"/>
<text x="1447.7" y="340" font-size="11" fill="#555555" >1.05000</text>
<rect x="1442" y="229" width="50" height="16" fill="#000" shape-rendering="crispEdges"/>
<rect x="1442" y="236" width="3" height="1" fill="#fff" shape-rendering="crispEdges"/>
<text x="1448.5" y="241" font-size="11" fill="#fff" font-weight="bold" textLength="38.5" lengthAdjust="spacingAndGlyphs" >1.17456</text>
<rect x="1442" y="282" width="50" height="16" fill="#ff0000" shape-rendering="crispEdges"/>
<rect x="1442" y="289" width="3" height="1" fill="#fff" shape-rendering="crispEdges"/>
<text x="1448.5" y="294" font-size="11" fill="#fff" font-weight="bold" textLength="38.5" lengthAdjust="spacingAndGlyphs" >1.10774</text>
<svg x="753" y="357" width="741" height="20" viewBox="753 357 741 20">
<rect x="753" y="357" width="1" height="2" fill="#555555" shape-rendering="crispEdges"/>
<text x="753.0" y="370" font-size="11" fill="#555555" text-anchor="middle" >May</text>
</svg>
<rect x="830" y="357" width="1" height="2" fill="#555555" shape-rendering="crispEdges"/>
<text x="830.0" y="370" font-size="11" fill="#555555" text-anchor="middle" >Sep</text>
<rect x="913" y="357" width="1" height="2" fill="#555555" shape-rendering="crispEdges"/>
<text x="913.0" y="370" font-size="11" fill="#555555" font-weight="bold" text-anchor="middle" >2015</text>
<rect x="990" y="357" width="1" height="2" fill="#555555" shape-rendering="crispEdges"/>
<text x="990.0" y="370" font-size="11" fill="#555555" text-anchor="middle" >May</text>
<rect x="1073" y="357" width="1" height="2" fill="#555555" shape-rendering="crispEdges"/>
<text x="1073.0" y="370" font-size="11" fill="#555555" text-anchor="middle" >Sep</text>
<rect x="1149" y="357" width="1" height="2" fill="#555555" shape-rendering="crispEdges"/>
<text x="1149.0" y="370" font-size="11" fill="#555555" font-weight="bold" text-anchor="middle" >2016</text>
<rect x="1226" y="357" width="1" height="2" fill="#555555" shape-rendering="crispEdges"/>
<text x="1226.0" y="370" font-size="11" fill="#555555" text-anchor="middle" >May</text>
<rect x="1308" y="357" width="1" height="2" fill="#555555" shape-rendering="crispEdges"/>
<text x="1308.0" y="370" font-size="11" fill="#555555" text-anchor="middle" >Sep</text>
<rect x="1388" y="357" width="1" height="2" fill="#555555" shape-rendering="crispEdges"/>
<text x="1388.0" y="370" font-size="11" fill="#555555" font-weight="bold" text-anchor="middle" >2017</text>
<rect x="752.5" y="406.5" width="742" height="337" fill="#fff" stroke="#555555" stroke-width="1" />
<svg x="753" y="407" width="741" height="336" viewBox="753 407 741 336">
<rect x="754" y="430" width="426" height="3" fill="#ff0000" shape-rendering="crispEdges"/>
<line x1="798" y1="457.5" x2="1180" y2="457.5" stroke="#ff0000" stroke-width="2" />
<line x1="876" y1="468.7" x2="1066" y2="468.7" stroke="#ff00ff" stroke-width="2" />
<line x1="872" y1="522.5" x2="1180" y2="522.5" stroke="#ff0000" stroke-width="2" />
<rect x="753" y="557" width="690" height="3" fill="#000" shape-rendering="crispEdges"/>
<line x1="979" y1="668.5" x2="1181" y2="668.5" stroke="#0000ff" stroke-width="2" />
<line x1="753" y1="700.4" x2="1181" y2="700.4" stroke="#000" stroke-width="2.2" />
<g shape-rendering="crispEdges">
<path d="M753.5 504V566M758.5 460V537M762.5 433V478M766.5 426V485M770.5 431V496M774.5 484V573M778.5 558V597M782.5 546V589M786.5 534V622M791.5 619V641M795.5 631V682M799.5 654V699M803.5 641V680M807.5 621V655M811.5 628V672M815.5 540V659M819.5 501V589M823.5 461V528M828.5 503V602M832.5 492V587M836.5 476V532M840.5 458V512M844.5 482V546M848.5 497V559M852.5 497V542M856.5 482V536M860.5 470V536M865.5 437V482M869.5 452V499M873.5 448V490M877.5 475V566M881.5 523V557M885.5 526V558M889.5 529V568M893.5 504V643M897.5 519V575M902.5 550V605M906.5 571V610M910.5 573V595M914.5 582V637M918.5 598V659M922.5 584V634M926.5 570V627M930.5 531V611M934.5 539V626M939.5 587V638M943.5 608V653M947.5 639V685M951.5 663V698M955.5 679V705M959.5 636V704M963.5 637V679M967.5 616V657M971.5 625V655M976.5 568V637M980.5 581V614M984.5 587V637M988.5 628V669M992.5 574V657M996.5 625V648M1000.5 629V675M1004.5 650V688M1008.5 647V677M1013.5 633V685M1017.5 606V655M1021.5 585V640M1025.5 532V613M1029.5 543V589M1033.5 543V581M1037.5 569V598M1041.5 589V591" stroke="#737375" stroke-width="1" fill="none"/>
<path d="M769 433h3v57h-3zM773 489h3v71h-3zM777 559h3v26h-3zM785 576h3v44h-3zM790 622h3v12h-3zM794 633h3v46h-3zM810 632h3v25h-3zM822 507h3v16h-3zM827 522h3v56h-3zM835 499h3v5h-3zM843 486h3v28h-3zM855 503h3v16h-3zM868 470h3v6h-3zM872 463h3v16h-3zM876 478h3v75h-3zM884 537h3v2h-3zM888 538h3v19h-3zM896 523h3v41h-3zM901 563h3v39h-3zM917 600h3v20h-3zM925 591h3v19h-3zM933 583h3v43h-3zM942 620h3v29h-3zM946 648h3v32h-3zM950 679h3v19h-3zM954 696h3v3h-3zM962 651h3v4h-3zM970 631h3v3h-3zM979 587h3v12h-3zM983 598h3v35h-3zM987 632h3v22h-3zM995 635h3v11h-3zM999 645h3v30h-3zM1028 557h3v3h-3zM1032 559h3v19h-3zM1036 574h3v17h-3z" fill="#ff0000"/>
<path d="M752 532h3v26h-3zM757 472h3v61h-3zM761 448h3v25h-3zM765 433h3v16h-3zM781 576h3v9h-3zM798 665h3v14h-3zM802 646h3v20h-3zM806 627h3v20h-3zM814 559h3v98h-3zM818 507h3v53h-3zM831 499h3v84h-3zM839 486h3v18h-3zM847 511h3v3h-3zM851 503h3v31h-3zM859 480h3v39h-3zM864 470h3v11h-3zM880 537h3v16h-3zM892 523h3v99h-3zM905 588h3v14h-3zM909 576h3v13h-3zM913 600h3v29h-3zM921 591h3v29h-3zM929 557h3v53h-3zM938 620h3v6h-3zM958 651h3v48h-3zM966 631h3v24h-3zM975 587h3v46h-3zM991 631h3v23h-3zM1003 664h3v11h-3zM1007 656h3v9h-3zM1012 639h3v18h-3zM1016 616h3v24h-3zM1020 606h3v11h-3zM1024 557h3v50h-3zM1040 590h3v1h-3z" fill="#0000ff"/>
</g>
<text x="761.9" y="428.4" font-size="13" fill="#555555" font-weight="bold" textLength="127.4" lengthAdjust="spacingAndGlyphs" >Euro Fx/U.S. Dollar, D</text>
<rect x="1183.5" y="421.5" width="37" height="12.600000000000023" fill="#97bad8" stroke="#5d7f9f" stroke-width="1" shape-rendering="crispEdges"/>
<text x="1185.8" y="431.5" font-size="9.9" fill="#000" textLength="33.4" lengthAdjust="spacingAndGlyphs" text-rendering="geometricPrecision" stroke="#000" stroke-width="0.06">1.1447</text>
<rect x="1183.5" y="450.7" width="37" height="12.600000000000023" fill="#97bad8" stroke="#5d7f9f" stroke-width="1" shape-rendering="crispEdges"/>
<text x="1185.8" y="460.7" font-size="9.9" fill="#000" textLength="33.4" lengthAdjust="spacingAndGlyphs" text-rendering="geometricPrecision" stroke="#000" stroke-width="0.06">1.1385</text>
<rect x="1183.5" y="510.5" width="37" height="12.600000000000023" fill="#97bad8" stroke="#5d7f9f" stroke-width="1" shape-rendering="crispEdges"/>
<text x="1185.8" y="520.5" font-size="9.9" fill="#000" textLength="33.4" lengthAdjust="spacingAndGlyphs" text-rendering="geometricPrecision" stroke="#000" stroke-width="0.06">1.1233</text>
<rect x="1187.5" y="661.8" width="37" height="12.700000000000045" fill="#e2ecf4" stroke="#6f8aa6" stroke-width="1" shape-rendering="crispEdges"/>
<text x="1189.8" y="671.9" font-size="9.9" fill="#000" textLength="33.4" lengthAdjust="spacingAndGlyphs" text-rendering="geometricPrecision" stroke="#000" stroke-width="0.06">1.0892</text>
<rect x="1187.5" y="690.0" width="37" height="12.5" fill="#e2ecf4" stroke="#6f8aa6" stroke-width="1" shape-rendering="crispEdges"/>
<text x="1189.8" y="699.9" font-size="9.9" fill="#000" textLength="33.4" lengthAdjust="spacingAndGlyphs" text-rendering="geometricPrecision" stroke="#000" stroke-width="0.06">1.0816</text>
<text x="1226.2" y="432.5" font-size="12" fill="#111" font-weight="bold" textLength="159.8" lengthAdjust="spacingAndGlyphs" >Quasimodo cluster zone</text>
<text x="1226.2" y="444.6" font-size="12" fill="#111" font-weight="bold" textLength="171.3" lengthAdjust="spacingAndGlyphs" >located within the weekly</text>
<text x="1226.2" y="456.6" font-size="12" fill="#111" font-weight="bold" textLength="95" lengthAdjust="spacingAndGlyphs" >supply area at</text>
<text x="1325.8" y="456.6" font-size="12" fill="#111" font-weight="bold" textLength="102.4" lengthAdjust="spacingAndGlyphs" >1.1532-1.1278</text>
<path d="M1281.5 490.8L1359.8 490.8Q1367.8 490.8 1367.8 498.8L1367.8 526.1Q1367.8 534.1 1359.8 534.1L1281.5 534.1Q1273.5 534.1 1273.5 526.1L1273.5 520.5L1229.3 514.9L1273.5 504.4L1273.5 498.8Q1273.5 490.8 1281.5 490.8Z" fill="#fff" fill-opacity="0.8" stroke="none"/>
<path d="M1273.5 504.4L1273.5 498.8Q1273.5 490.8 1281.5 490.8L1359.8 490.8Q1367.8 490.8 1367.8 498.8L1367.8 526.1Q1367.8 534.1 1359.8 534.1L1281.5 534.1Q1273.5 534.1 1273.5 526.1L1273.5 520.5" fill="none" stroke="#ffff44" stroke-opacity="0.55" stroke-width="4.6" stroke-linecap="round"/>
<path d="M1273.5 520.5L1229.3 514.9L1273.5 504.4" fill="none" stroke="#ffff44" stroke-opacity="0.55" stroke-width="3.3" stroke-linejoin="miter" stroke-miterlimit="20" stroke-linecap="round"/>
<path d="M1273.5 504.4L1273.5 498.8Q1273.5 490.8 1281.5 490.8L1359.8 490.8Q1367.8 490.8 1367.8 498.8L1367.8 526.1Q1367.8 534.1 1359.8 534.1L1281.5 534.1Q1273.5 534.1 1273.5 526.1L1273.5 520.5" fill="none" stroke="#ffff00" stroke-width="2.7" stroke-linecap="round"/>
<path d="M1273.5 520.5L1229.3 514.9L1273.5 504.4" fill="none" stroke="#ffff00" stroke-width="2.2" stroke-linejoin="miter" stroke-miterlimit="20" stroke-linecap="round"/>
<text x="1283.5" y="509.4" font-size="12" fill="#111" font-weight="bold" textLength="74.3" lengthAdjust="spacingAndGlyphs" >Quasimodo</text>
<text x="1283.5" y="521.5" font-size="12" fill="#111" font-weight="bold" textLength="68.3" lengthAdjust="spacingAndGlyphs" >resistance</text>
<text x="1272.2" y="572.7" font-size="12" fill="#111" font-weight="bold" textLength="122.7" lengthAdjust="spacingAndGlyphs" >Swap (resistance)</text>
<text x="1272.2" y="585.2" font-size="12" fill="#111" font-weight="bold" textLength="31.5" lengthAdjust="spacingAndGlyphs" >level</text>
<path d="M1281 644.4L1360.3 644.4Q1368.3 644.4 1368.3 652.4L1368.3 680.8Q1368.3 688.8 1360.3 688.8L1281 688.8Q1273 688.8 1273 680.8L1273 675.7L1234.3 668.3L1273 657.7L1273 652.4Q1273 644.4 1281 644.4Z" fill="#fff" fill-opacity="0.8" stroke="none"/>
<path d="M1273 657.7L1273 652.4Q1273 644.4 1281 644.4L1360.3 644.4Q1368.3 644.4 1368.3 652.4L1368.3 680.8Q1368.3 688.8 1360.3 688.8L1281 688.8Q1273 688.8 1273 680.8L1273 675.7" fill="none" stroke="#ffff44" stroke-opacity="0.55" stroke-width="4.6" stroke-linecap="round"/>
<path d="M1273 675.7L1234.3 668.3L1273 657.7" fill="none" stroke="#ffff44" stroke-opacity="0.55" stroke-width="3.3" stroke-linejoin="miter" stroke-miterlimit="20" stroke-linecap="round"/>
<path d="M1273 657.7L1273 652.4Q1273 644.4 1281 644.4L1360.3 644.4Q1368.3 644.4 1368.3 652.4L1368.3 680.8Q1368.3 688.8 1360.3 688.8L1281 688.8Q1273 688.8 1273 680.8L1273 675.7" fill="none" stroke="#ffff00" stroke-width="2.7" stroke-linecap="round"/>
<path d="M1273 675.7L1234.3 668.3L1273 657.7" fill="none" stroke="#ffff00" stroke-width="2.2" stroke-linejoin="miter" stroke-miterlimit="20" stroke-linecap="round"/>
<text x="1283.3" y="663.3" font-size="12" fill="#111" font-weight="bold" textLength="74.3" lengthAdjust="spacingAndGlyphs" >Quasimodo</text>
<text x="1283.3" y="674.9" font-size="12" fill="#111" font-weight="bold" textLength="52" lengthAdjust="spacingAndGlyphs" >support</text>
<text x="819.6" y="687.7" font-size="12" fill="#111" font-weight="bold" textLength="103.8" lengthAdjust="spacingAndGlyphs" >Swap (support)</text>
<text x="819.6" y="699.2" font-size="12" fill="#111" font-weight="bold" textLength="31.5" lengthAdjust="spacingAndGlyphs" >level</text>
</svg>
<rect x="1442" y="407" width="1" height="316" fill="#555555" shape-rendering="crispEdges"/>
<rect x="753" y="722" width="690" height="1" fill="#555555" shape-rendering="crispEdges"/>
<svg x="1443" y="407" width="51" height="336" viewBox="1443 407 51 336">
<rect x="1443" y="408" width="3" height="1" fill="#555555" shape-rendering="crispEdges"/>
<text x="1447.7" y="413" font-size="11" fill="#555555" >1.15000</text>
<rect x="1443" y="451" width="3" height="1" fill="#555555" shape-rendering="crispEdges"/>
<text x="1447.7" y="456" font-size="11" fill="#555555" >1.14000</text>
<rect x="1443" y="494" width="3" height="1" fill="#555555" shape-rendering="crispEdges"/>
<text x="1447.7" y="499" font-size="11" fill="#555555" >1.13000</text>
<rect x="1443" y="536" width="3" height="1" fill="#555555" shape-rendering="crispEdges"/>
<text x="1447.7" y="541" font-size="11" fill="#555555" >1.12000</text>
<rect x="1443" y="579" width="3" height="1" fill="#555555" shape-rendering="crispEdges"/>
<text x="1447.7" y="584" font-size="11" fill="#555555" >1.11000</text>
<rect x="1443" y="622" width="3" height="1" fill="#555555" shape-rendering="crispEdges"/>
<text x="1447.7" y="627" font-size="11" fill="#555555" >1.10000</text>
<rect x="1443" y="665" width="3" height="1" fill="#555555" shape-rendering="crispEdges"/>
<text x="1447.7" y="670" font-size="11" fill="#555555" >1.09000</text>
<rect x="1443" y="707" width="3" height="1" fill="#555555" shape-rendering="crispEdges"/>
<text x="1447.7" y="712" font-size="11" fill="#555555" >1.08000</text>
</svg>
<rect x="1442" y="551" width="50" height="16" fill="#000" shape-rendering="crispEdges"/>
<rect x="1442" y="558" width="3" height="1" fill="#fff" shape-rendering="crispEdges"/>
<text x="1448.5" y="563" font-size="11" fill="#fff" font-weight="bold" textLength="38.5" lengthAdjust="spacingAndGlyphs" >1.11480</text>
<rect x="1442" y="582" width="50" height="16" fill="#0000ff" shape-rendering="crispEdges"/>
<rect x="1442" y="589" width="3" height="1" fill="#fff" shape-rendering="crispEdges"/>
<text x="1448.5" y="594" font-size="11" fill="#fff" font-weight="bold" textLength="38.5" lengthAdjust="spacingAndGlyphs" >1.10774</text>
<rect x="811" y="723" width="1" height="2" fill="#555555" shape-rendering="crispEdges"/>
<text x="811.0" y="736" font-size="11" fill="#555555" font-weight="bold" text-anchor="middle" >Jun</text>
<rect x="902" y="723" width="1" height="2" fill="#555555" shape-rendering="crispEdges"/>
<text x="902.0" y="736" font-size="11" fill="#555555" font-weight="bold" text-anchor="middle" >Jul</text>
<rect x="996" y="723" width="1" height="2" fill="#555555" shape-rendering="crispEdges"/>
<text x="995.5" y="736" font-size="11" fill="#555555" font-weight="bold" text-anchor="middle" >Aug</text>
<rect x="1083" y="723" width="1" height="2" fill="#555555" shape-rendering="crispEdges"/>
<text x="1083.0" y="736" font-size="11" fill="#555555" font-weight="bold" text-anchor="middle" >Sep</text>
<rect x="1173" y="723" width="1" height="2" fill="#555555" shape-rendering="crispEdges"/>
<text x="1173.0" y="736" font-size="11" fill="#555555" font-weight="bold" text-anchor="middle" >Oct</text>
<rect x="1263" y="723" width="1" height="2" fill="#555555" shape-rendering="crispEdges"/>
<text x="1263.0" y="736" font-size="11" fill="#555555" font-weight="bold" text-anchor="middle" >Nov</text>
<rect x="1350" y="723" width="1" height="2" fill="#555555" shape-rendering="crispEdges"/>
<text x="1350.0" y="736" font-size="11" fill="#555555" font-weight="bold" text-anchor="middle" >Dec</text>
<rect x="1428" y="723" width="1" height="2" fill="#555555" shape-rendering="crispEdges"/>
<text x="1428.0" y="736" font-size="11" fill="#555555" text-anchor="middle" >28</text>
</svg>
</body></html>
